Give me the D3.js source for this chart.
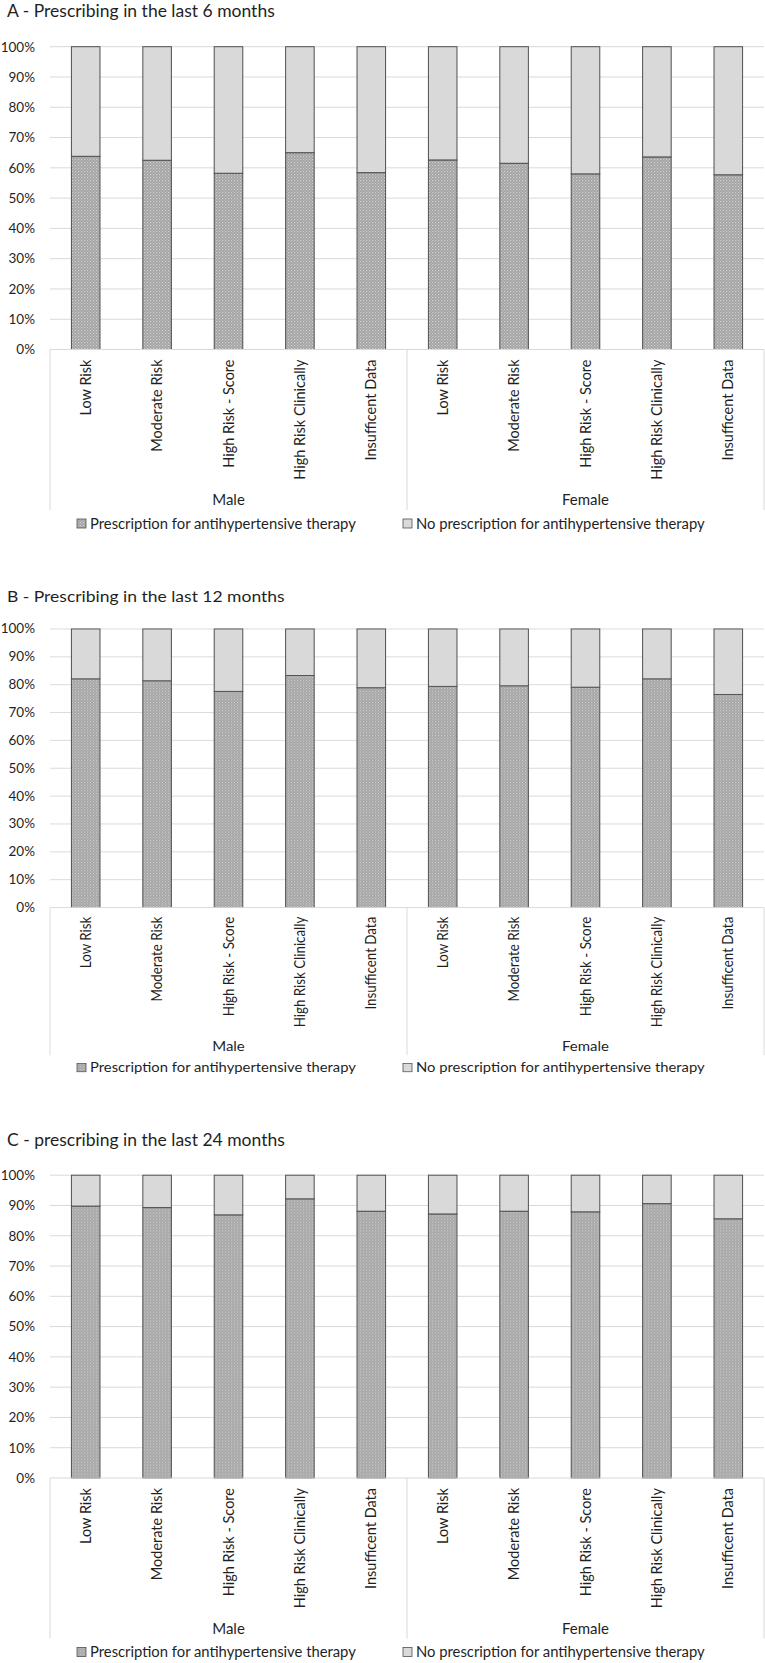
<!DOCTYPE html>
<meta charset="utf-8">
<script src="https://d3js.org/d3.v7.min.js"></script>
<style>
  body { margin: 0; background: #fff; }
  text { font-family: Lato, "Open Sans", sans-serif; fill: #1f1f1f; }
</style>
<body>
  <div id="container"></div>
</body>
<script>
    // categories of the two level x axis
    var riskGroups = ["Low Risk", "Moderate Risk", "High Risk - Score", "High Risk Clinically", "Insufficent Data"];
    var sexes = ["Male", "Female"];
    var seriesNames = ["Prescription for antihypertensive therapy", "No prescription for antihypertensive therapy"];
    var panelTitles = ["A - Prescribing in the last 6 months",
                       "B - Prescribing in the last 12 months",
                       "C - prescribing in the last 24 months"];

    // % with a prescription (male 5 groups, then female 5 groups)
    var prescribed6  = [63.8, 62.5, 58.2, 65.0, 58.4, 62.6, 61.5, 58.0, 63.6, 57.7];
    var prescribed12 = [82.1, 81.4, 77.6, 83.3, 78.9, 79.4, 79.6, 79.1, 82.1, 76.5];
    var prescribed24 = [89.8, 89.3, 86.9, 92.2, 88.1, 87.2, 88.1, 87.9, 90.6, 85.6];
    var yTicks = [0, 10, 20, 30, 40, 50, 60, 70, 80, 90, 100];

    var panelValues = [prescribed6, prescribed12, prescribed24];

    // where each picture sits on the page (panel B was squashed a bit)
    var panelTop = [0, 586, 1128.5];
    var panelScaleY = [1, 0.92, 1];

    var width = 765, height = 1663;
    var plot = {left: 50, right: 764, top: 46.7, bottom: 349.5};

    var svg = d3.select("#container")
      .append("svg")
      .attr("width", width)
      .attr("height", height);

    // checkered fill used by Excel for the first series
    var defs = svg.append("defs");
    var pat = defs.append("pattern")
      .attr("id", "checker")
      .attr("patternUnits", "userSpaceOnUse")
      .attr("width", 3)
      .attr("height", 3);
    pat.append("rect").attr("width", 3).attr("height", 3).attr("fill", "#a2a2a2");
    pat.append("rect").attr("x", 0).attr("y", 0).attr("width", 1.2).attr("height", 1.2).attr("fill", "#d2d2d2");
    pat.append("rect").attr("x", 1.5).attr("y", 1.5).attr("width", 1.2).attr("height", 1.2).attr("fill", "#c4c4c4");

    var fills = ["url(#checker)", "#d9d9d9"];

    var keys = d3.range(riskGroups.length * sexes.length);

    var x = d3.scaleBand()
      .domain(keys)
      .range([plot.left, plot.right])
      .paddingInner(0.6)
      .paddingOuter(0.3);

    var y = d3.scaleLinear()
      .domain([0, 100])
      .range([plot.bottom, plot.top]);

    panelValues.forEach(function (values, p) {
      var g = svg.append("g")
        .attr("transform", "translate(0," + panelTop[p] + ") scale(1," + panelScaleY[p] + ")");

      // title
      g.append("text")
        .attr("x", 7)
        .attr("y", 17)
        .style("font-size", "17.5px")
        .text(panelTitles[p]);

      // gridlines
      g.append("g")
        .selectAll("line")
        .data(yTicks.filter(function (d) { return d > 0; }))
        .enter()
        .append("line")
          .attr("x1", plot.left)
          .attr("x2", plot.right)
          .attr("y1", function (d) { return y(d); })
          .attr("y2", function (d) { return y(d); })
          .attr("stroke", "#d9d9d9")
          .attr("stroke-width", 1);

      // y axis labels
      var yAxis = g.append("g")
        .attr("transform", "translate(" + plot.left + ",0)")
        .call(d3.axisLeft(y).tickValues(yTicks).tickSize(0).tickPadding(15)
          .tickFormat(function (d) { return d + "%"; }));
      yAxis.select(".domain").remove();
      yAxis.selectAll("text")
        .style("font-family", "Lato, sans-serif")
        .style("font-size", "13.5px")
        .attr("fill", "#1f1f1f");

      // stacked bars
      var rows = values.map(function (v, i) {
        return {key: i, yes: v, no: 100 - v};
      });
      var stacked = d3.stack().keys(["yes", "no"])(rows);

      g.append("g")
        .selectAll("g")
        .data(stacked)
        .enter()
        .append("g")
          .attr("fill", function (d, i) { return fills[i]; })
        .selectAll("rect")
        .data(function (d) { return d; })
        .enter()
        .append("rect")
          .attr("x", function (d) { return x(d.data.key); })
          .attr("y", function (d) { return y(d[1]); })
          .attr("width", x.bandwidth())
          .attr("height", function (d) { return y(d[0]) - y(d[1]); })
          .attr("stroke", "#505050")
          .attr("stroke-width", 1);

      // multi level category axis box
      var boxBottom = plot.bottom + 160.5;
      g.append("line")
        .attr("x1", plot.left).attr("x2", plot.right)
        .attr("y1", plot.bottom).attr("y2", plot.bottom)
        .attr("stroke", "#d9d9d9");
      var splits = [plot.left, (x(4) + x.bandwidth() + x(5)) / 2, plot.right];
      g.append("g")
        .selectAll("line")
        .data(splits)
        .enter()
        .append("line")
          .attr("x1", function (d) { return d; })
          .attr("x2", function (d) { return d; })
          .attr("y1", plot.bottom)
          .attr("y2", boxBottom)
          .attr("stroke", "#d9d9d9");

      // category labels
      g.append("g")
        .selectAll("text")
        .data(keys)
        .enter()
        .append("text")
          .attr("transform", function (d) {
            return "translate(" + (x(d) + x.bandwidth() / 2) + "," + (plot.bottom + 10) + ") rotate(-90)";
          })
          .attr("text-anchor", "end")
          .attr("dy", "0.35em")
          .style("font-size", "14.5px")
          .text(function (d) { return riskGroups[d % riskGroups.length]; });

      // group labels
      g.append("g")
        .selectAll("text")
        .data(sexes)
        .enter()
        .append("text")
          .attr("x", function (d, i) {
            var a = x(i * 5), b = x(i * 5 + 4) + x.bandwidth();
            return (a + b) / 2;
          })
          .attr("y", plot.bottom + 155.5)
          .attr("text-anchor", "middle")
          .style("font-size", "15px")
          .text(function (d) { return d; });

      // legend
      var legendX = [77, 403];
      var lg = g.append("g")
        .selectAll("g")
        .data(seriesNames)
        .enter()
        .append("g")
          .attr("transform", function (d, i) { return "translate(" + legendX[i] + "," + (plot.bottom + 169.5) + ")"; });
      lg.append("rect")
        .attr("width", 9)
        .attr("height", 9)
        .attr("fill", function (d, i) { return fills[i]; })
        .attr("stroke", "#505050")
        .attr("stroke-width", 0.8);
      lg.append("text")
        .attr("x", 13)
        .attr("y", 9.5)
        .style("font-size", "14.8px")
        .text(function (d) { return d; });
    });
</script>
